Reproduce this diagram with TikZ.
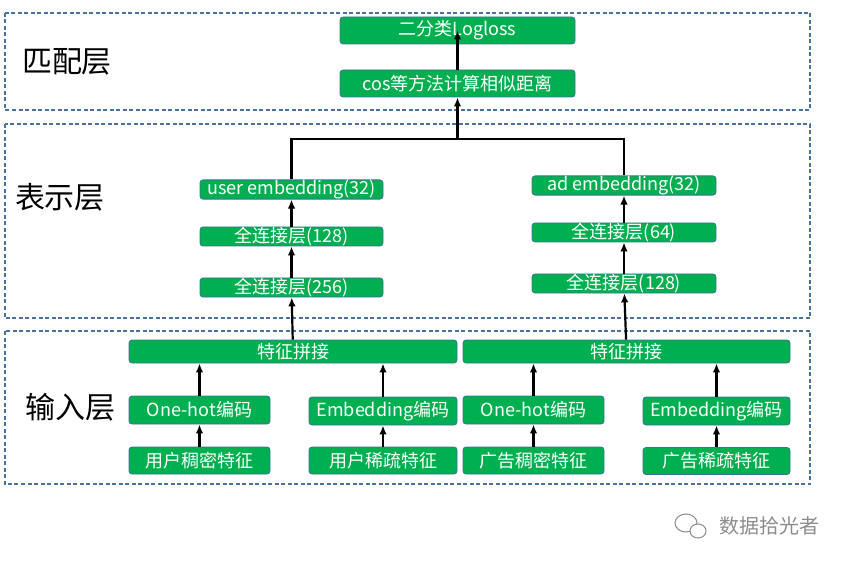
\documentclass[tikz,border=0pt]{standalone}
\usepackage{fontspec}
\usetikzlibrary{arrows.meta}
\newfontfamily\cjk{Noto Sans CJK SC}
\definecolor{boxgreen}{HTML}{00B050}
\definecolor{boxline}{HTML}{41719C}
\definecolor{framecol}{HTML}{4A72A0}
\definecolor{markgray}{HTML}{8C8C8C}

\begin{document}
\begin{tikzpicture}[x=1pt,y=-1pt,>={Latex[length=9pt,width=7.5pt]}]
\useasboundingbox (0,0) rectangle (849,564);

% layer frames
\begin{scope}[draw=framecol,line width=1.3pt,dash pattern=on 4pt off 2.5pt]
	\draw (5,13) rectangle (810,110);
	\draw (5,124) rectangle (810,318);
	\draw (5,331) rectangle (810,484);
\end{scope}

\begin{scope}[every node/.style={font=\cjk\fontsize{30}{32}\selectfont}]
	\node (match) at (67,62) {匹配层};
	\node (repr) at (60,197) {表示层};
	\node (input) at (70,407) {输入层};
\end{scope}

\begin{scope}[every node/.style={rectangle,rounded corners=3pt,fill=boxgreen,draw=boxline,line width=0.8pt,text=white,font=\cjk\fontsize{18}{20}\selectfont,inner sep=0pt,minimum height=27pt}]
	% match layer
	\node[minimum width=235pt] (loss) at (457.5,30.5) {二分类Logloss};
	\node[minimum width=235pt] (cosd) at (457.5,83.5) {cos等方法计算相似距离};
	% representation layer
	\node[minimum width=183pt,minimum height=19pt] (ue) at (291.5,189.5) {user embedding(32)};
	\node[minimum width=183pt,minimum height=19pt] (ufcb) at (291.5,236.5) {全连接层(128)};
	\node[minimum width=183pt,minimum height=19pt] (ufca) at (291.5,287.5) {全连接层(256)};
	\node[minimum width=184pt,minimum height=19pt] (ae) at (624,185.5) {ad embedding(32)};
	\node[minimum width=184pt,minimum height=19pt] (afcb) at (624,232.5) {全连接层(64)};
	\node[minimum width=184pt,minimum height=19pt] (afca) at (624,283.5) {全连接层(128)};
	% input layer
	\node[minimum width=328pt,minimum height=23pt] (ucat) at (293,351.5) {特征拼接};
	\node[minimum width=327pt,minimum height=23pt] (acat) at (626.5,351.5) {特征拼接};
	\node[minimum width=141pt,minimum height=28pt] (uoh) at (199.5,410) {One-hot编码};
	\node[minimum width=148pt,minimum height=28pt] (uemb) at (383,411) {Embedding编码};
	\node[minimum width=141pt,minimum height=28pt] (aoh) at (533.5,410) {One-hot编码};
	\node[minimum width=147pt,minimum height=28pt] (aemb) at (716.5,411) {Embedding编码};
	\node[minimum width=141pt] (udense) at (199.5,460.5) {用户稠密特征};
	\node[minimum width=148pt] (usparse) at (383,460.5) {用户稀疏特征};
	\node[minimum width=141pt] (adense) at (533.5,460.5) {广告稠密特征};
	\node[minimum width=147pt] (asparse) at (716.5,461) {广告稀疏特征};
\end{scope}

\coordinate (join) at (457.5,139);

\begin{scope}[every edge/.style={draw=black,line width=2.2pt}]
	\path [->] (udense) edge (uoh)
		(usparse) edge (uemb)
		(adense) edge (aoh)
		(asparse) edge (aemb)
		(uoh) edge (uoh |- ucat.south)
		(uemb) edge (uemb |- ucat.south)
		(aoh) edge (aoh |- acat.south)
		(aemb) edge (aemb |- acat.south)
		(ucat) edge (ufca)
		(acat) edge (afca)
		(ufca) edge (ufcb)
		(ufcb) edge (ue)
		(afca) edge (afcb)
		(afcb) edge (ae)
		(join) edge (cosd)
		(cosd) edge (loss.center);
	\draw [line width=2.2pt] (ue.north) |- (join) -| (ae.north);
\end{scope}

% watermark
\begin{scope}[draw=markgray,line width=1pt]
	\draw (686,523) ellipse (11 and 9);
	\draw[fill=white] (698,531) ellipse (8 and 7);
\end{scope}
\node[text=markgray,font=\cjk\fontsize{20}{22}\selectfont] (mark) at (769,526) {数据拾光者};
\end{tikzpicture}
\end{document}
